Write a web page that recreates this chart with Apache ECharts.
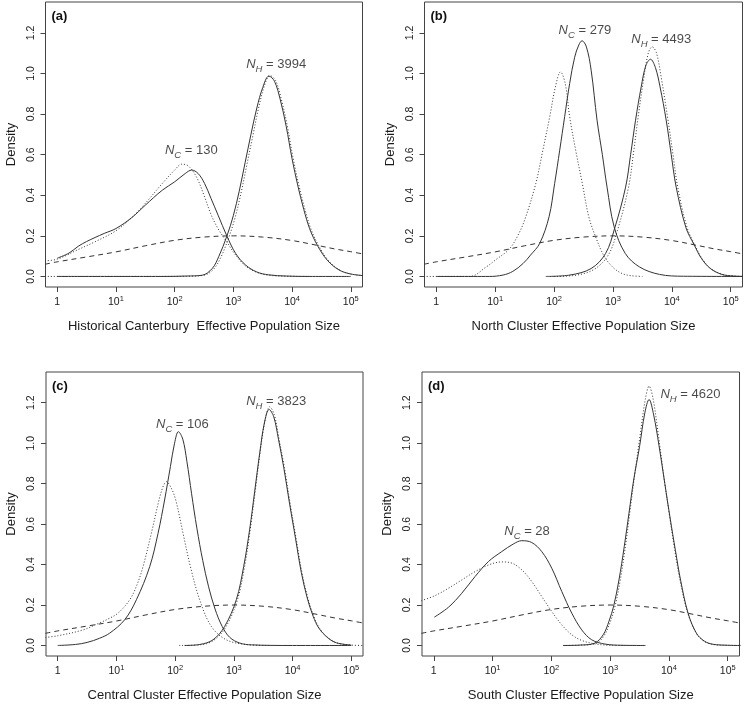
<!DOCTYPE html>
<html><head><meta charset="utf-8">
<script src="https://cdn.jsdelivr.net/npm/echarts@6/dist/echarts.min.js"></script>
<style>html,body{margin:0;padding:0;background:#fff}#c{width:745px;height:705px}</style>
</head><body><div id="c"></div>
<script>
// ---------- tick labels / categories ----------
const xTicks = [0, 1, 2, 3, 4, 5];              // log10 of effective population size
const yTicks = [0, 0.2, 0.4, 0.6, 0.8, 1.0, 1.2];
const xNames = ['Historical Canterbury  Effective Population Size',
                'North Cluster Effective Population Size',
                'Central Cluster Effective Population Size',
                'South Cluster Effective Population Size'];
const panelTags = ['(a)', '(b)', '(c)', '(d)'];
const ncValues = [130, 279, 106, 28];
const nhValues = [3994, 4493, 3823, 4620];
const ncAnchor = [[2.284, 0.622], [2.525, 1.21], [2.123, 1.095], [1.587, 0.563]];
const nhAnchor = [[3.73, 1.045], [3.82, 1.167], [3.72, 1.208], [4.366, 1.243]];

// ---------- density curves : [log10(N), density] ----------
const priorCurve = [[-0.21,0.06],[0,0.072],[0.5,0.096],[1,0.121],[1.5,0.151],[2,0.178],[2.5,0.194],[3,0.2],[3.5,0.194],[4,0.177],[4.43,0.153],[4.72,0.136],[5,0.122],[5.22,0.11]];

const aSolidC = [[0,0.09],[0.2,0.115],[0.36,0.149],[0.5,0.172],[0.645,0.192],[0.8,0.212],[1.0,0.236],[1.27,0.29],[1.5,0.351],[1.79,0.425],[2.0,0.466],[2.18,0.507],[2.29,0.524],[2.4,0.507],[2.51,0.458],[2.62,0.384],[2.74,0.302],[2.89,0.199],[3.04,0.113],[3.21,0.056],[3.4,0.022],[3.6,0.008],[3.9,0.002],[4.3,0],[5.0,0]];
const aDotC   = [[-0.21,0.077],[0,0.085],[0.36,0.133],[0.645,0.171],[1.0,0.225],[1.27,0.29],[1.5,0.36],[1.79,0.458],[2.0,0.524],[2.12,0.553],[2.23,0.545],[2.37,0.491],[2.51,0.392],[2.62,0.305],[2.74,0.235],[2.87,0.178],[3.04,0.105],[3.21,0.051],[3.4,0.02],[3.6,0.006],[3.9,0.001],[4.3,0]];
const aSolidH = [[0,0],[1.8,0],[2.2,0.002],[2.47,0.006],[2.64,0.039],[2.75,0.097],[2.89,0.199],[3.0,0.3],[3.1,0.42],[3.2,0.56],[3.3,0.7],[3.4,0.83],[3.5,0.93],[3.605,0.987],[3.7,0.962],[3.8,0.87],[3.9,0.74],[4.0,0.58],[4.1,0.445],[4.2,0.33],[4.3,0.235],[4.43,0.154],[4.6,0.08],[4.8,0.032],[5.0,0.012],[5.22,0.004]];
const aDotH   = [[-0.21,0],[1.8,0],[2.2,0.001],[2.5,0.006],[2.66,0.035],[2.78,0.09],[2.92,0.19],[3.03,0.29],[3.13,0.41],[3.23,0.55],[3.33,0.69],[3.43,0.83],[3.53,0.94],[3.62,0.99],[3.72,0.965],[3.82,0.87],[3.92,0.74],[4.02,0.58],[4.12,0.445],[4.22,0.33],[4.32,0.235],[4.45,0.154],[4.62,0.078],[4.82,0.03],[5.0,0.012],[5.22,0.004]];

const bSolidC = [[0,0],[0.9,0],[1.135,0.007],[1.3,0.025],[1.475,0.064],[1.6,0.105],[1.757,0.163],[1.915,0.294],[2.01,0.458],[2.096,0.622],[2.18,0.787],[2.265,0.951],[2.35,1.08],[2.42,1.14],[2.475,1.161],[2.55,1.13],[2.63,1.016],[2.73,0.77],[2.82,0.6],[2.9,0.44],[3.02,0.245],[3.21,0.113],[3.45,0.047],[3.79,0.01],[4.2,0.001],[5.22,0]];
const bDotC   = [[-0.21,0],[0.57,0],[0.85,0.047],[1.0,0.08],[1.24,0.135],[1.4,0.21],[1.52,0.294],[1.69,0.458],[1.81,0.622],[1.927,0.787],[2.02,0.93],[2.11,1.008],[2.19,0.95],[2.265,0.787],[2.367,0.622],[2.48,0.458],[2.59,0.294],[2.706,0.195],[2.85,0.1],[3.0,0.045],[3.15,0.015],[3.3,0.004],[3.5,0]];
const bSolidH = [[1.86,0],[2.27,0.007],[2.63,0.039],[2.875,0.113],[3.028,0.236],[3.215,0.44],[3.3,0.6],[3.384,0.77],[3.48,0.934],[3.56,1.04],[3.638,1.07],[3.72,1.03],[3.8,0.934],[3.904,0.77],[3.99,0.6],[4.074,0.44],[4.24,0.24],[4.38,0.155],[4.5,0.09],[4.65,0.04],[4.85,0.01],[5.05,0.002],[5.22,0]];
const bDotH   = [[2.0,0],[2.35,0.005],[2.68,0.035],[2.92,0.105],[3.075,0.225],[3.265,0.44],[3.35,0.61],[3.43,0.79],[3.52,0.97],[3.6,1.1],[3.667,1.131],[3.74,1.1],[3.82,0.98],[3.93,0.78],[4.02,0.6],[4.1,0.44],[4.26,0.24],[4.4,0.15],[4.52,0.085],[4.67,0.037],[4.87,0.009],[5.05,0.002],[5.22,0]];

const cSolidC = [[0,0],[0.3,0.005],[0.5,0.015],[0.715,0.036],[0.885,0.061],[1.14,0.127],[1.34,0.226],[1.567,0.39],[1.709,0.555],[1.82,0.719],[1.919,0.884],[1.99,1.0],[2.055,1.057],[2.13,1.02],[2.2,0.91],[2.28,0.75],[2.37,0.58],[2.47,0.42],[2.57,0.29],[2.68,0.18],[2.8,0.095],[2.93,0.04],[3.1,0.012],[3.3,0.003],[4,0],[5.0,0]];
const cDotC   = [[-0.21,0.04],[0,0.048],[0.43,0.077],[0.715,0.112],[0.85,0.13],[1.027,0.16],[1.226,0.226],[1.35,0.3],[1.453,0.39],[1.595,0.555],[1.725,0.719],[1.8,0.79],[1.85,0.81],[1.93,0.78],[2.01,0.719],[2.134,0.555],[2.26,0.39],[2.418,0.226],[2.617,0.094],[2.872,0.028],[3.21,0.005],[3.6,0]];
const cSolidH = [[2.16,0],[2.42,0.005],[2.645,0.028],[2.843,0.094],[3.042,0.226],[3.167,0.39],[3.27,0.575],[3.354,0.76],[3.44,0.95],[3.52,1.1],[3.6,1.167],[3.68,1.13],[3.76,1.02],[3.85,0.88],[3.95,0.7],[4.05,0.53],[4.15,0.36],[4.25,0.235],[4.35,0.145],[4.45,0.085],[4.6,0.038],[4.75,0.013],[5.0,0.002]];
const cDotH   = [[2.07,0],[2.45,0.004],[2.66,0.026],[2.86,0.09],[3.055,0.22],[3.18,0.385],[3.28,0.575],[3.365,0.765],[3.45,0.96],[3.53,1.11],[3.61,1.18],[3.69,1.14],[3.77,1.02],[3.86,0.88],[3.96,0.7],[4.06,0.53],[4.16,0.36],[4.26,0.235],[4.36,0.145],[4.46,0.085],[4.61,0.037],[4.76,0.012],[5.0,0.002],[5.22,0]];

const dSolidC = [[0.01,0.14],[0.25,0.189],[0.476,0.258],[0.703,0.341],[0.93,0.415],[1.156,0.464],[1.355,0.502],[1.497,0.518],[1.667,0.509],[1.837,0.464],[2.007,0.382],[2.177,0.267],[2.347,0.16],[2.517,0.077],[2.687,0.028],[2.91,0.007],[3.2,0.001],[3.6,0]];
const dDotC   = [[-0.21,0.222],[0.01,0.245],[0.25,0.283],[0.476,0.324],[0.703,0.365],[0.93,0.398],[1.156,0.413],[1.33,0.407],[1.497,0.374],[1.667,0.316],[1.837,0.242],[2.007,0.168],[2.177,0.102],[2.347,0.053],[2.517,0.025],[2.74,0.008],[3.0,0.001],[3.3,0]];
const dSolidH = [[2.2,0],[2.5,0.002],[2.74,0.012],[2.886,0.055],[2.98,0.12],[3.06,0.195],[3.15,0.324],[3.24,0.489],[3.32,0.654],[3.4,0.818],[3.5,0.983],[3.59,1.15],[3.662,1.216],[3.74,1.14],[3.83,0.99],[3.93,0.8],[4.02,0.63],[4.11,0.47],[4.2,0.32],[4.325,0.16],[4.467,0.061],[4.6,0.022],[4.75,0.006],[5.0,0.001],[5.22,0]];
const dDotH   = [[2.2,0],[2.5,0.002],[2.76,0.01],[2.9,0.05],[3.0,0.115],[3.08,0.19],[3.17,0.32],[3.26,0.49],[3.34,0.67],[3.42,0.85],[3.51,1.04],[3.6,1.22],[3.662,1.282],[3.73,1.22],[3.82,1.04],[3.92,0.82],[4.01,0.64],[4.1,0.47],[4.19,0.32],[4.32,0.16],[4.47,0.058],[4.6,0.02],[4.75,0.005],[5.0,0.001],[5.22,0]];

const panels = [
  {solidC: aSolidC, dotC: aDotC, solidH: aSolidH, dotH: aDotH},
  {solidC: bSolidC, dotC: bDotC, solidH: bSolidH, dotH: bDotH},
  {solidC: cSolidC, dotC: cDotC, solidH: cSolidH, dotH: cDotH},
  {solidC: dSolidC, dotC: dDotC, solidH: dSolidH, dotH: dDotH}
];

// ---------- layout / styles ----------
const FONT = 'Liberation Sans, Arial, Helvetica, sans-serif';
const INK = '#1a1a1a';
const LINE = '#333';
const gridBoxes = [
  {left: 45.5, top: 2, width: 317, height: 285},
  {left: 424.5, top: 2, width: 318, height: 285},
  {left: 46, top: 372, width: 317, height: 284},
  {left: 422, top: 372, width: 317.5, height: 284}
];

const chart = echarts.init(document.getElementById('c'), null, {renderer: 'canvas'});

const grid = [], xAxis = [], yAxis = [], series = [], graphic = [];
gridBoxes.forEach((g, i) => {
  grid.push(Object.assign({show: true, borderColor: '#444', borderWidth: 1, backgroundColor: 'transparent'}, g));
  xAxis.push({
    type: 'value', gridIndex: i, min: -0.2, max: 5.2, position: 'bottom',
    splitLine: {show: false}, axisLine: {show: false, onZero: false},
    axisTick: {show: true, inside: false, length: 5, customValues: xTicks, lineStyle: {color: '#444', width: 1}},
    axisLabel: {
      customValues: xTicks, margin: 8, color: INK, fontFamily: FONT, fontSize: 10.5,
      formatter: v => v === 0 ? '{n|1}' : '{n|10}{s|' + v + '}',
      rich: {
        n: {fontSize: 10.5, fontFamily: FONT, color: INK, lineHeight: 15},
        s: {fontSize: 7.5, fontFamily: FONT, color: INK, lineHeight: 9, verticalAlign: 'top'}
      }
    },
    name: xNames[i], nameLocation: 'middle', nameGap: 33,
    nameTextStyle: {fontSize: 13, fontFamily: FONT, color: INK}
  });
  yAxis.push({
    type: 'value', gridIndex: i, min: -0.052, max: 1.352, position: 'left',
    splitLine: {show: false}, axisLine: {show: false, onZero: false},
    axisTick: {show: true, inside: false, length: 5, customValues: yTicks, lineStyle: {color: '#444', width: 1}},
    axisLabel: {
      customValues: yTicks, rotate: 90, margin: 9, color: INK, fontFamily: FONT, fontSize: 10.5,
      formatter: v => v.toFixed(1)
    },
    name: 'Density', nameLocation: 'middle', nameGap: 28,
    nameTextStyle: {fontSize: 13, fontFamily: FONT, color: INK}
  });
  const p = panels[i];
  const mk = (data, type) => ({
    type: 'line', xAxisIndex: i, yAxisIndex: i, data: data, smooth: 0.35,
    showSymbol: false, symbol: 'none', silent: true, clip: true,
    lineStyle: {color: LINE, width: 1, type: type}
  });
  series.push(mk(priorCurve, [5, 4]));
  series.push(mk(p.dotC, [1, 2]));
  series.push(mk(p.dotH, [1, 2]));
  series.push(mk(p.solidC, 'solid'));
  series.push(mk(p.solidH, 'solid'));
  const rich = {
    i: {fontSize: 13, fontStyle: 'italic', fontFamily: FONT, color: INK, lineHeight: 20},
    sub: {fontSize: 9.5, fontStyle: 'italic', fontFamily: FONT, color: INK, lineHeight: 13, verticalAlign: 'bottom'},
    t: {fontSize: 13, fontFamily: FONT, color: INK, lineHeight: 20}
  };
  series.push({
    type: 'scatter', xAxisIndex: i, yAxisIndex: i, symbolSize: 0, silent: true,
    data: [
      {value: ncAnchor[i], label: {formatter: '{i|N}{sub|C}{t| = ' + ncValues[i] + '}'}},
      {value: nhAnchor[i], label: {formatter: '{i|N}{sub|H}{t| = ' + nhValues[i] + '}'}}
    ],
    label: {show: true, position: 'inside', rich: rich}
  });
  graphic.push({
    type: 'text', left: g.left + 6, top: g.top + 8,
    style: {text: panelTags[i], font: 'bold 13px ' + FONT, fill: '#111'}
  });
});

chart.setOption({animation: false, backgroundColor: '#fff', grid, xAxis, yAxis, series, graphic});
</script></body></html>
